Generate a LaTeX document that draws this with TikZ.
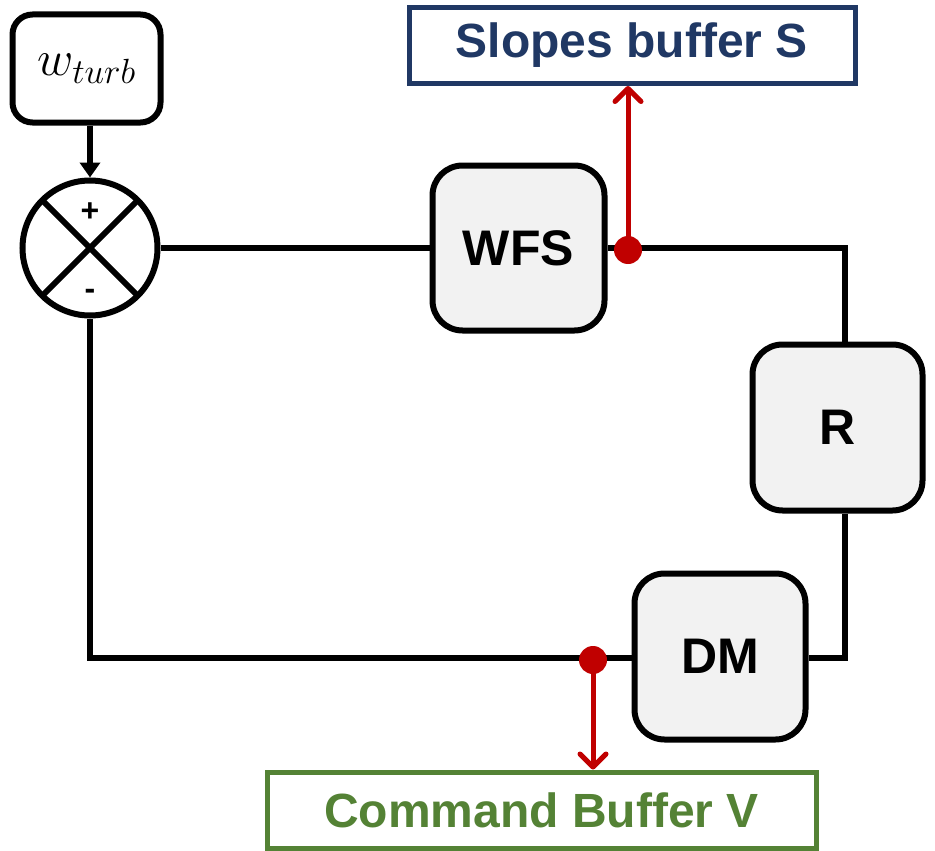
\RequirePackage{fix-cm}
\documentclass[tikz,border=0pt]{standalone}
\usepackage{fontspec}
\setmainfont{Liberation Sans}
\usetikzlibrary{arrows.meta,calc}
\definecolor{navy}{HTML}{203864}
\definecolor{grn}{HTML}{548235}
\definecolor{dred}{HTML}{C00000}
\definecolor{boxgray}{HTML}{F2F2F2}
\begin{document}
\begin{tikzpicture}[x=1pt,y=-1pt,
  blk/.style={draw=black,line width=6pt,fill=boxgray,rounded corners=30pt,font=\fontsize{50}{50}\selectfont\bfseries},
  wire/.style={draw=black,line width=6pt},
  tap/.style={draw=dred,line width=5pt,-{Straight Barb[length=13pt,width=26pt,line cap=round,line join=round]}},
  dot/.style={circle,fill=dred,inner sep=0pt,minimum size=28pt}]
\useasboundingbox (0,0) rectangle (935,851);
% blocks
\node[draw=black,line width=6pt,rounded corners=20pt,minimum width=148pt,minimum height=108pt,inner sep=0pt] (wt) at (86.5,68.5) {\fontsize{50}{50}\selectfont$w_{turb}$};
\node[circle,draw=black,line width=6pt,minimum size=135pt,inner sep=0pt] (sum) at (90,248) {};
\draw[line width=6pt] ($(sum.center)+(-48,-48)$) -- ($(sum.center)+(48,48)$);
\draw[line width=6pt] ($(sum.center)+(-48,48)$) -- ($(sum.center)+(48,-48)$);
\node[font=\fontsize{32}{32}\selectfont\bfseries] (plus) at (90,212) {+};
\node[font=\fontsize{32}{32}\selectfont\bfseries] (minus) at (90,294) {-};
\node[blk,minimum width=172pt,minimum height=165pt] (wfs) at (518.5,248) {WFS};
\node[blk,minimum width=170pt,minimum height=166pt] (r) at (837.5,427.5) {R};
\node[blk,minimum width=171pt,minimum height=166pt] (dm) at (720,656.5) {DM};
\node[draw=navy,line width=5pt,text=navy,minimum width=446pt,minimum height=76pt,font=\fontsize{48}{48}\selectfont\bfseries] (sb) at (632,45.5) {Slopes buffer S};
\node[draw=grn,line width=5pt,text=grn,minimum width=549pt,minimum height=76pt,font=\fontsize{48}{48}\selectfont\bfseries] (cb) at (541.5,810) {Command Buffer V};
% wires
\draw[wire,-{Triangle[length=15pt,width=20pt]}] (sum.north |- wt.south) -- (sum.north);
\draw[wire] (sum.east) -- (wfs.west);
\coordinate (cr) at (845,248);
\draw[wire] (wfs.east) -- (cr) -- (cr |- r.north);
\coordinate (cd) at (845,658);
\draw[wire] (cd |- r.south) -- (cd) -- (dm.east |- cd);
\coordinate (cl) at (90,658);
\draw[wire] (dm.west |- cl) -- (cl) -- (sum.south);
% taps
\node[dot] (ds) at (628,250) {};
\node[dot] (dv) at (593,660) {};
\draw[tap] (ds.center) -- (ds.center |- sb.south);
\draw[tap] (dv.center) -- (dv.center |- cb.north);
\end{tikzpicture}
\end{document}
